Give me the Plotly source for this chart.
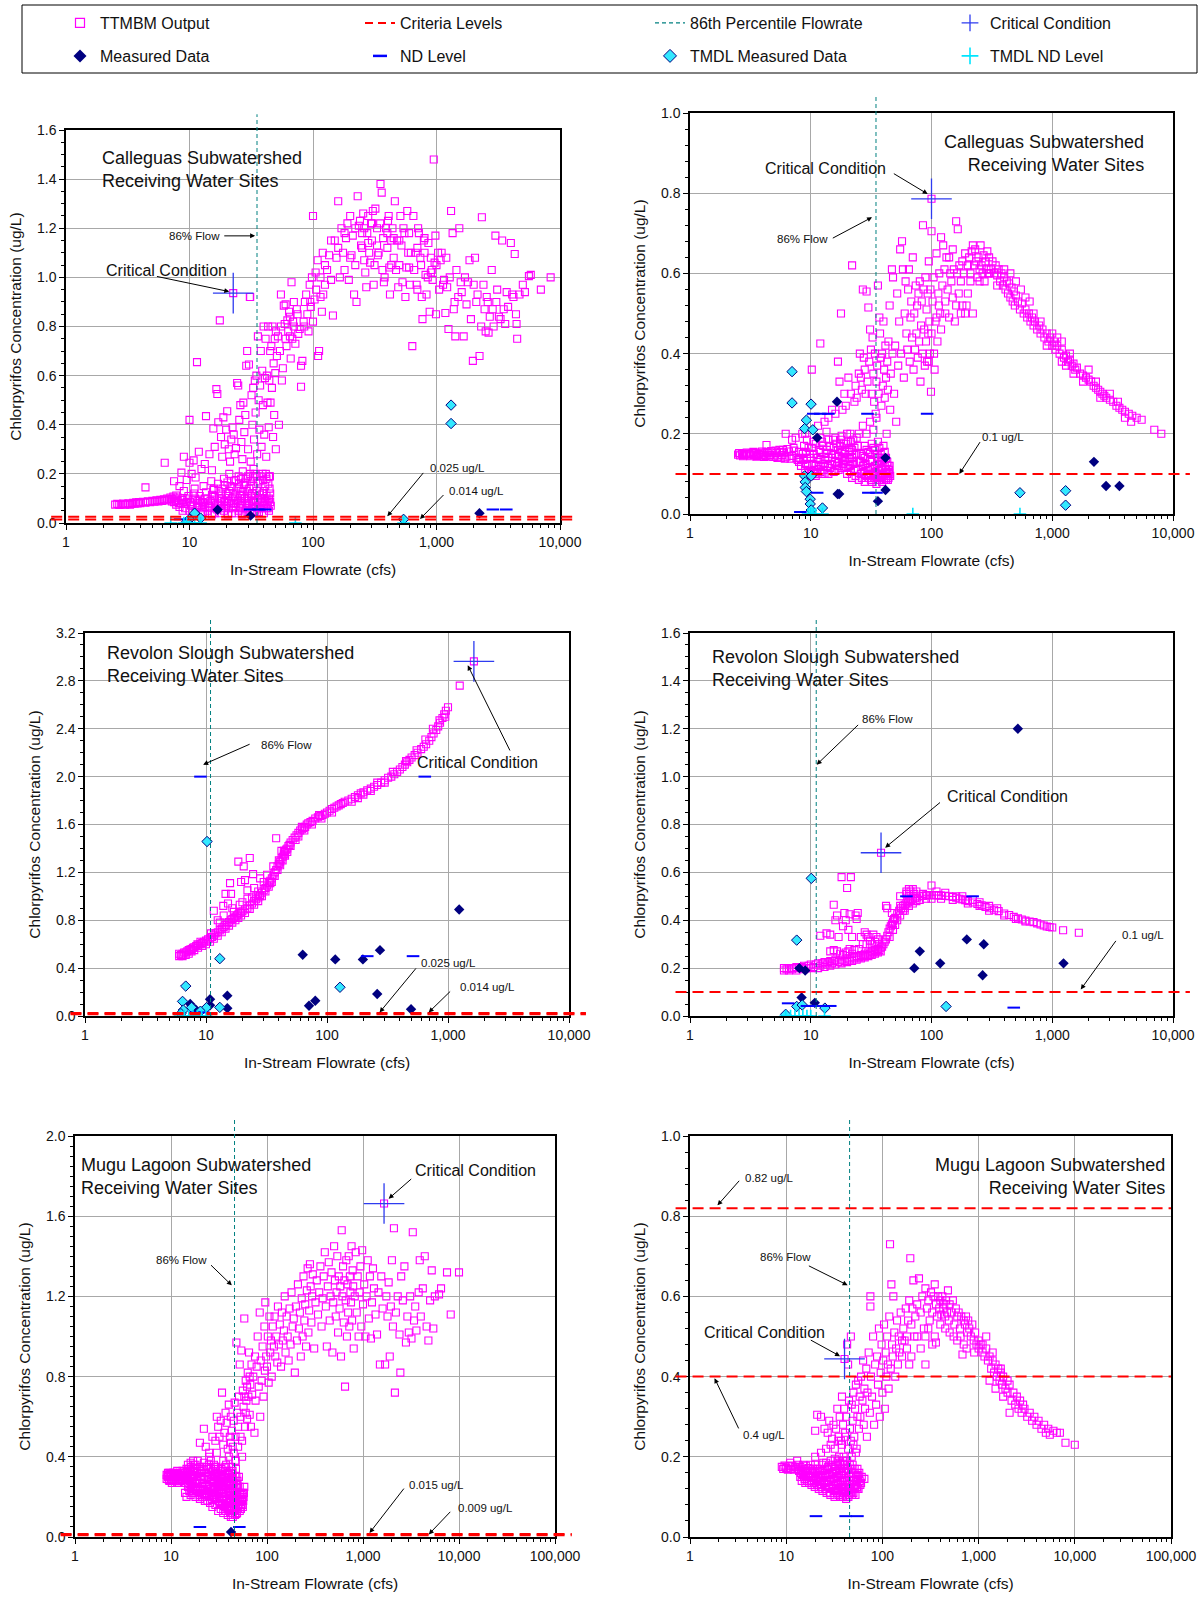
import math
import plotly.graph_objects as go

W, H = 1199, 1602
FONT = "Liberation Sans, Arial, Helvetica, sans-serif"

# ---------------------------------------------------------------- data
# Panel 1 : Calleguas (criteria 0.025 / 0.014)
P1_TTMBM = [
 (2.5,.075),(2.6,.078),(2.7,.073),(2.8,.076),(2.9,.079),(3.0,.074),(3.1,.077),(3.2,.08),(3.3,.075),(3.4,.078),
 (3.5,.082),(3.6,.079),(3.7,.084),(3.8,.08),(3.9,.085),(4.0,.081),(4.2,.086),(4.4,.083),(4.6,.088),(4.8,.085),
 (5.0,.09),(5.2,.087),(5.4,.092),(5.6,.088),(5.8,.094),(6.0,.09),(6.2,.096),(6.4,.092),(6.6,.1),(6.8,.095),
 (7.0,.104),(7.2,.098),(7.4,.108),(7.6,.1),(7.8,.112),(8.0,.104),
 (7.5,.085),(7.8,.075),(8.0,.09),(8.3,.065),(8.6,.08),(8.9,.1),(9.2,.06),(9.5,.085),(9.8,.11),(10,.05),
 (10.3,.07),(10.6,.095),(10.9,.12),(11.2,.045),(11.5,.065),(11.8,.09),(12.1,.11),(12.4,.04),(12.7,.06),(13.0,.08),
 (13.3,.1),(13.6,.125),(14,.05),(14.4,.07),(14.8,.09),(15.2,.115),(15.6,.135),(16,.04),(16.5,.06),(17,.08),
 (17.5,.1),(18,.12),(18.5,.14),(19,.05),(19.5,.07),(20,.09),(20.5,.11),(21,.13),(21.5,.15),(22,.04),
 (22.5,.06),(23,.08),(23.5,.1),(24,.12),(24.5,.14),(25,.05),(25.5,.07),(26,.09),(26.5,.11),(27,.13),
 (27.5,.155),(28,.04),(28.5,.06),(29,.08),(29.5,.1),(30,.12),(30.5,.14),(31,.05),(32,.07),(33,.09),
 (34,.11),(35,.13),(36,.06),(37,.08),(38,.1),(39,.12),(40,.07),(41,.09),(42,.11),(43,.08),(44,.1),(45,.085),
 (9,.13),(11,.14),(13,.15),(15,.17),(17,.16),(19,.18),(21,.2),(23,.17),(25,.19),(27,.21),(29,.18),(31,.2),
 (33,.22),(35,.19),(37,.17),(39,.2),(42,.18),(44,.19),(45,.12),
 (12,.07),(14,.1),(16,.11),(18,.06),(20,.07),(22,.1),(24,.08),(26,.06),(28,.1),(30,.08),(32,.12),(34,.05),
 (36,.1),(38,.06),(40,.13),(42,.06),(44,.05),(18,.09),(26,.13),(33,.15),(21,.09),(29,.13),(37,.13),(41,.15),
 (7.2,.088),(7.7,.092),(8.2,.082),(8.7,.094),(9.1,.078),(9.6,.1),(10.1,.085),(10.6,.075),(11.1,.1),(11.6,.08),
 (12.2,.095),(12.8,.085),(13.4,.065),(14.1,.08),(14.7,.06),(15.4,.095),(16.1,.075),(16.8,.055),(17.5,.07),(18.3,.1),
 (19.1,.085),(19.9,.12),(20.8,.06),(21.7,.08),(22.6,.105),(23.6,.065),(24.6,.09),(25.7,.115),(26.8,.075),(27.9,.1),
 (29.1,.06),(30.3,.09),(31.6,.11),(32.9,.085),(34.3,.065),(35.7,.095),(37.2,.115),(38.8,.085),(40.4,.1),(42.1,.075),
 (43.9,.095),(45.5,.07),(8.8,.05),(10.5,.04),(12.8,.045),(15.2,.035),(17.8,.04),(20.5,.035),(23.5,.04),(26.5,.035),
 (29.5,.045),(33,.04),(36.5,.045),(40,.04),(43,.06),(15.8,.14),(17.2,.13),(19.2,.155),(20.3,.165),(22.2,.145),
 (23.7,.175),(25.2,.16),(26.2,.18),(28.2,.165),(29.7,.19),(31.2,.17),(32.7,.185),(34.2,.2),(35.8,.165),(37.7,.19),
 (39.5,.175),(41.5,.2),(43.5,.16),(44.5,.14),
 (4.4,.145),(6.3,.245),(7.5,.17),(8.3,.15),(8.6,.205),(9.0,.27),(9.5,.175),(10,.42),(10,.245),(10.4,.2),
 (10.8,.255),(11.2,.185),(11.5,.655),(11.9,.29),(12.5,.22),(13.3,.24),(13.6,.435),(14.5,.28),(15.2,.215),(15.6,.385),
 (16,.31),(16.5,.545),(16.8,.525),(17.1,.41),(17.6,.825),(18,.35),(18.4,.27),(18.8,.43),(19.3,.32),(19.8,.38),
 (20.2,.455),(20.8,.3),(21.3,.25),(21.8,.34),(22.3,.39),(22.8,.36),(23.2,.28),(23.8,.305),(24.3,.57),(24.8,.56),
 (25.3,.42),(25.8,.48),(26.3,.33),(26.8,.26),(27.3,.49),(27.8,.37),(28.3,.44),(28.8,.64),(29.3,.7),(29.8,.3),
 (30.3,.645),(30.8,.92),(31.3,.25),(31.8,.52),(32.3,.4),(32.8,.55),(33.3,.34),(33.8,.58),(34.3,.45),(34.8,.6),
 (35.3,.28),(35.8,.76),(36.3,.5),(36.8,.38),(37.3,.56),(37.8,.7),(38.3,.31),(38.8,.62),(39.3,.48),(39.8,.8),
 (40.3,.36),(40.8,.59),(41.3,.75),(41.8,.27),(42.3,.6),(42.8,.49),(43.3,.8),(43.8,.39),(44.3,.58),(44.8,.19),
 (45.3,.49),(46,.72),(46.5,.55),(47,.8),(47.5,.35),(48,.65),(48.5,.44),(49,.75),(49.5,.61),(50,.3),
 (51,.68),(52,.76),(53,.4),(54,.7),(55,.93),(56,.58),(57,.63),(58,.885),(59,.81),(60,.89),
 (61,.72),(62,.825),(63,.78),(64,.86),(65,.76),(66,.67),(67,.98),(68,.75),(69,.82),(70,.8),
 (72,.73),(74,.87),(76,.77),(78,.79),(80,.64),(80,.555),(82,.66),(84,.82),(86,.9),(88,.93),
 (90,.85),(92,.78),(94,.97),(96,.88),(98,1.0),(100,1.25),(100,.82),(103,.91),(106,.95),(109,1.07),
 (110,.68),(112,.7),(115,1.0),(118,.86),(121,.93),(125,.97),(130,1.03),(135,1.09),(140,.99),(145,.845),(150,1.15),
 (45,.7),(50,.78),(55,.8),(60,.75),(65,.84),(70,.9),(75,.85),(85,.8),(95,.9),(105,1.02),(115,.92),(125,1.05),
 (155,1.08),(160,1.31),(165,1.0),(170,1.2),(175,1.1),(180,1.03),(185,1.16),(190,1.22),(195,.99),(200,1.25),
 (205,1.09),(210,1.17),(215,.93),(220,1.05),(225,.9),(230,1.33),(235,1.21),(240,1.23),(245,1.13),(250,1.12),
 (255,1.26),(260,1.2),(265,1.02),(270,.96),(275,1.18),(280,1.25),(285,1.1),(290,1.06),(295,1.22),(300,1.15),
 (305,1.27),(310,.97),(315,1.05),(320,1.28),(330,1.2),(335,1.09),(340,1.1),(352,1.38),(360,1.345),(365,1.03),
 (370,1.16),(375,.98),(380,1.0),(390,1.2),(400,1.12),(405,1.23),(410,1.25),(415,1.04),(420,.93),(430,1.15),
 (440,1.2),(450,1.08),(460,1.31),(470,1.03),(480,1.15),(490,.96),(500,1.05),(510,1.25),(520,1.13),(530,.98),
 (540,1.2),(550,1.18),(560,.92),(570,1.04),(580,1.27),(590,1.1),(600,1.04),(610,.97),(620,1.1),(637,.72),
 (650,1.25),(660,1.03),(680,1.1),(690,.97),(700,.95),(710,1.2),(720,1.18),(740,1.08),(750,1.05),(760,.92),
 (770,.83),(790,1.15),(800,1.1),(815,1.01),(830,.93),(850,1.0),(860,1.14),(880,.86),(900,1.08),(915,1.03),
 (930,.99),(950,1.48),(965,1.06),(980,1.17),(990,.85),(1000,1.05),(1030,1.1),(1050,.95),(1080,1.07),(1100,1.1),
 (120,1.1),(140,1.15),(160,1.12),(180,1.18),(200,1.08),(220,1.2),(250,1.18),(280,1.14),(300,1.22),(350,1.22),
 (400,1.18),(450,1.16),(500,1.15),(600,1.18),(700,1.12),(800,1.16),(900,1.02),(260,1.07),(330,1.13),(430,1.05),
 (1130,.97),(1150,.99),(1180,.855),(1200,1.08),(1220,.96),(1250,.79),(1280,1.0),(1312,1.27),(1350,1.18),(1380,.87),
 (1400,.9),(1420,.76),(1450,1.03),(1500,.92),(1530,1.2),(1570,.98),(1600,.94),(1660,.76),(1700,1.0),(1750,.89),
 (1800,.98),(1850,1.07),(1900,.83),(1970,.66),(2000,.97),(2050,1.08),(2100,.9),(2150,.93),(2230,.68),(2300,.8),
 (2330,1.245),(2400,.97),(2450,.87),(2500,.78),(2550,.92),(2600,.9),(2640,.775),(2700,.84),(2800,1.03),(2850,.87),
 (2900,.8),(3000,1.17),(3050,.9),(3100,.95),(3200,.84),(3300,.83),(3400,1.15),(3500,.87),(3600,.81),(3700,.94),
 (3800,.88),(4000,1.14),(4100,.93),(4200,.92),(4300,1.095),(4400,.85),(4450,.81),(4500,.75),(4700,.93),(5000,.97),
 (5200,.94),(5600,1.005),(5800,1.01),(7000,.95),(8400,1.0),(22.6,.936),(31,.92)]
P1_MEASURED = [(16.9,.054),(31.2,.03),(2228,.04)]
P1_TMDL_MEASURED = [(11,.04),(12.3,.02),(1312,.48),(1312,.405),(541,.015),(10,.015),(9.5,.005)]
P1_ND = [(31,.055),(36,.055),(41,.055),(2863,.055),(3673,.055),(8.4,.015)]
P1_TMDL_ND = [(7.05,0),(9,0),(9.5,0),(10,0),(11,0),(12.3,0),(72,0),(541,0)]
P1_CRITICAL = [(22.6,.936)]
P1_CRITERIA = [0.025, 0.014]
P1_FLOW86 = 35.2

# Panel 2 : Calleguas (criteria 0.1)
P2_TTMBM = [
 (2.5,.148),(2.6,.146),(2.7,.15),(2.8,.147),(2.9,.151),(3.0,.146),(3.1,.15),(3.2,.148),(3.3,.152),(3.4,.147),
 (3.5,.151),(3.6,.145),(3.7,.15),(3.8,.153),(3.9,.147),(4.0,.151),(4.2,.145),(4.4,.152),(4.6,.147),(4.8,.154),
 (5.0,.146),(5.2,.152),(5.4,.143),(5.6,.155),(5.8,.147),(6.0,.153),(6.3,.143),(6.6,.156),(7.0,.145),(7.3,.158),
 (7.6,.14),(8.0,.155),(4.3,.172),(6.2,.2),(7.0,.185),
 (2.55,.152),(2.75,.144),(2.95,.153),(3.15,.144),(3.35,.155),(3.55,.143),(3.75,.147),(3.95,.156),(4.1,.142),(4.3,.155),
 (4.5,.143),(4.7,.157),(4.9,.142),(5.1,.158),(5.3,.14),(5.5,.16),(5.7,.14),(5.9,.16),(6.1,.138),(6.4,.162),
 (6.8,.138),(7.2,.165),(7.8,.135),
 (8,.13),(8.3,.12),(8.6,.15),(9,.11),(9.3,.14),(9.6,.165),(10,.1),(10.3,.125),(10.6,.15),(11,.175),
 (11.3,.105),(11.6,.13),(12,.155),(12.4,.18),(12.8,.11),(13.2,.135),(13.6,.16),(14,.185),(14.5,.115),(15,.14),
 (15.5,.165),(16,.19),(16.5,.12),(17,.145),(17.5,.17),(18,.195),(18.5,.125),(19,.15),(19.5,.175),(20,.2),
 (20.5,.13),(21,.155),(21.5,.18),(22,.14),(23,.165),(24,.19),(9.5,.095),(11,.095),(12.5,.1),(14,.1),
 (15.5,.105),(17,.11),(8.8,.17),(10.5,.18),(12,.19),(13.5,.205),(9,.2),(7.5,.19),
 (9,.125),(10,.14),(11,.12),(12,.135),(13,.125),(14,.14),(15,.125),(16,.15),(17,.13),(18,.155),(19,.135),(21,.14),
 (8.2,.14),(8.7,.135),(9.1,.155),(9.4,.12),(9.8,.15),(10.2,.165),(10.7,.11),(11.2,.14),(11.8,.16),(12.2,.12),
 (12.7,.17),(13.3,.15),(13.8,.12),(14.3,.17),(14.8,.15),(15.3,.185),(15.8,.13),(16.3,.175),(16.8,.16),(17.3,.12),
 (17.8,.185),(18.3,.14),(18.8,.175),(19.3,.16),(19.8,.14),(20.3,.18),(20.8,.165),(21.3,.2),(21.8,.13),(22.5,.185),
 (23.5,.15),(24.5,.17),(9.7,.105),(10.8,.1),(12,.105),(13,.1),(16,.11),(18,.115),(19,.115),
 (20,.1),(21,.12),(22,.09),(23,.11),(24,.13),(25,.085),(26,.1),(27,.12),(28,.08),(29,.095),
 (30,.115),(31,.135),(32,.08),(33,.1),(34,.12),(35,.075),(36,.09),(37,.11),(38,.13),(39,.08),
 (40,.1),(41,.12),(42,.085),(43,.105),(44,.09),(45,.1),(26,.15),(28,.17),(30,.155),(32,.175),
 (34,.16),(36,.18),(38,.15),(40,.17),(42,.14),(44,.12),(25,.2),(27,.22),(29,.2),(31,.23),(33,.21),(35,.24),
 (22,.16),(24,.15),(26,.13),(28,.14),(30,.09),(32,.13),(34,.095),(36,.14),(38,.095),(40,.135),(42,.11),(44,.105),
 (20.5,.115),(21.5,.105),(22.5,.125),(23.5,.095),(24.5,.11),(25.5,.13),(26.5,.09),(27.5,.105),(28.5,.125),(29.5,.11),
 (30.5,.1),(31.5,.085),(32.5,.115),(33.5,.09),(34.5,.105),(35.5,.125),(36.5,.1),(37.5,.085),(38.5,.115),(39.5,.1),
 (40.5,.085),(41.5,.11),(42.5,.095),(43.5,.085),(44.5,.11),(45.5,.095),(27,.145),(29,.16),(31,.15),(33,.165),
 (35,.15),(37,.165),(39,.14),(41,.155),(43,.13),(45,.12),
 (8.5,.2),(9.3,.185),(10.2,.36),(11.5,.22),(12,.425),(13,.23),(14,.24),(15,.26),(16,.25),(16.8,.38),
 (17.3,.33),(17.8,.5),(18.3,.26),(19,.3),(19.5,.27),(20.5,.34),(21.5,.3),(22,.62),(23,.28),(23.5,.32),
 (24,.29),(25,.35),(25.5,.4),(26,.34),(26.5,.31),(27,.56),(27.5,.39),(28,.36),(28.5,.3),(29,.555),
 (29.5,.33),(30,.515),(30.5,.38),(31,.46),(31.5,.41),(32,.3),(32.5,.44),(33,.35),(33.5,.28),(34,.4),
 (34.5,.25),(35,.33),(35.5,.37),(36,.57),(36.5,.3),(37,.49),(37.5,.45),(38,.39),(38.5,.27),(39,.4),
 (39.5,.32),(40,.48),(40.5,.36),(41,.29),(41.5,.42),(42,.34),(42.5,.2),(43,.38),(43.5,.31),(44,.43),
 (45,.52),(45.5,.26),(46,.35),(47,.61),(47.5,.4),(48,.59),(49,.3),(50,.42),(51,.23),(52,.55),
 (53,.37),(54,.48),(55,.66),(56,.4),(57,.68),(58,.61),(59,.34),(60,.5),(61,.58),(62,.45),
 (63,.41),(64,.56),(65,.61),(66,.38),(67,.49),(68,.53),(69,.44),(70,.64),(71,.36),(72,.5),
 (73,.41),(74,.57),(75,.45),(76,.52),(77,.39),(78,.55),(79,.43),(80,.58),(81,.33),(82,.47),
 (83,.53),(84,.4),(85,.72),(86,.56),(87,.46),(88,.37),(89,.59),(90,.43),(91,.51),(92,.38),
 (93,.55),(94,.45),(95,.63),(96,.48),(97,.4),(98,.56),(99,.305),(100,.705),(100,.45),(102,.53),
 (104,.59),(106,.36),(108,.48),(110,.65),(112,.43),(114,.55),(116,.6),(118,.5),(120,.69),(123,.57),
 (125,.67),(128,.61),(130,.53),(133,.64),(136,.56),(140,.64),(143,.6),(146,.58),(150,.66),(153,.61),
 (156,.48),(160,.73),(163,.6),(165,.71),(168,.55),(170,.62),(175,.58),(180,.63),(185,.6),(190,.65),
 (195,.52),(200,.62),(205,.64),(210,.6),(215,.655),(220,.5),(225,.62),(230,.66),(235,.63),(240,.59),
 (245,.64),(250,.61),(255,.67),(260,.62),(265,.6),(270,.645),(275,.58),(280,.63),(285,.61),(290,.655),
 (295,.6),(300,.64),(310,.61),(320,.63),(330,.6),(340,.62),(350,.595),(360,.61),(370,.58),(380,.6),
 (390,.57),(400,.59),(410,.56),(420,.58),(430,.55),(440,.575),(450,.54),(460,.565),(470,.53),(480,.555),
 (490,.52),(500,.545),(520,.53),(540,.51),(560,.525),(580,.5),(600,.51),(620,.49),(640,.5),(660,.48),
 (680,.49),(700,.47),(720,.48),(750,.46),(780,.47),(800,.45),(830,.46),(860,.44),(900,.45),(930,.43),
 (960,.44),(1000,.42),(1030,.43),(1060,.41),(1100,.42),(1150,.4),(1200,.41),(1250,.39),(1300,.395),(1350,.38),
 (1400,.385),(1450,.37),(1500,.375),(1550,.36),(1600,.365),(1700,.35),(1800,.345),(1900,.34),(2000,.335),(2100,.33),
 (2200,.32),(2300,.315),(2400,.31),(2500,.305),(2600,.3),(2700,.295),(2800,.29),(3000,.285),(3200,.28),(3400,.27),
 (3600,.265),(3800,.26),(4000,.255),(4300,.25),(4600,.245),(5000,.24),(5500,.235),(7000,.21),(8000,.2),
 (500,.58),(550,.56),(600,.54),(650,.53),(700,.5),(800,.48),(900,.42),(1000,.45),(1100,.44),(1200,.38),
 (1300,.37),(1500,.35),(1800,.33),(2000,.36),(2300,.33),(2500,.29),(3000,.3),(3500,.28),(4000,.24),(4500,.23),
 (1200,.43),(1400,.4),(300,.6),(250,.58),(200,.55),(180,.52),(350,.57),(400,.61),(450,.6),(220,.67),
 (150,.54),(140,.49),(130,.5),(120,.46),(110,.49),(95,.38),(105,.4),(115,.52),(160,.52),(175,.5),
 (190,.5),(210,.58),(100,.786)]
P2_MEASURED = [(16.5,.28),(11.3,.19),(41.6,.14),(16.7,.05),(17.2,.05),(41.6,.06),(36,.032),(2215,.13),(2790,.07),(3600,.07)]
P2_TMDL_MEASURED = [(7,.355),(7,.277),(10.06,.274),(9.2,.234),(8.9,.213),(10.4,.21),(8.9,.095),(10.1,.095),(9,.08),
 (9,.066),(9.2,.056),(9.9,.037),(9.9,.025),(10.1,.01),(12.5,.015),(540,.053),(1290,.058),(1290,.022)]
P2_ND = [(10.5,.25),(12,.25),(14,.25),(29.5,.25),(92,.25),(11.3,.053),(30,.053),(35,.053),(8.2,.005)]
P2_TMDL_ND = [(9.5,0),(10,0),(10.5,0),(11,0),(12.5,0),(70,0),(540,0)]
P2_CRITICAL = [(100,.786)]
P2_CRITERIA = [0.1]
P2_FLOW86 = 34.7

# Panel 3 : Revolon Slough (criteria 0.025 / 0.014)
P3_TTMBM = [
 (6.0,.50),(6.0,.52),(6.2,.51),(6.4,.52),(6.4,.50),(6.6,.53),(6.8,.53),(6.8,.51),(7.0,.54),(7.2,.55),
 (7.2,.52),(7.4,.555),(7.6,.56),(7.6,.54),(7.8,.57),(8.0,.575),(8.0,.55),(8.3,.585),(8.6,.59),(8.6,.57),
 (9.0,.6),(9.3,.61),(9.3,.585),(9.6,.62),(10,.63),(10,.6),(10.4,.64),(10.8,.65),(10.8,.62),(11.2,.66),
 (11.6,.675),(11.6,.645),(12,.69),(12.5,.7),(12.5,.67),(13,.715),(13.5,.73),(13.5,.7),(14,.745),(14.5,.76),
 (14.5,.73),(15,.775),(15.5,.785),(15.5,.755),(16,.8),(16.5,.81),(16.5,.78),(17,.82),(17.5,.83),(17.5,.8),
 (18,.84),(18.5,.85),(18.5,.82),(19,.86),(19.5,.865),(19.5,.84),(20,.875),(21,.89),(21,.86),(22,.905),
 (23,.925),(23,.895),(24,.94),(25,.96),(25,.93),(26,.975),(27,.99),(27,.96),(28,1.01),(29,1.03),
 (29,1.0),(30,1.05),(31,1.07),(31,1.04),(32,1.09),(33,1.11),(33,1.08),(34,1.13),(35,1.15),(35,1.12),
 (36,1.17),(37,1.2),(37,1.17),(38,1.22),(39,1.25),(39,1.22),(40,1.27),(41,1.29),(41,1.26),(42,1.31),
 (43,1.33),(43,1.3),(44,1.35),(45,1.37),(45,1.34),(46,1.39),(47,1.4),(48,1.42),(49,1.43),(50,1.45),
 (52,1.47),(54,1.49),(56,1.51),(58,1.53),(60,1.55),(62,1.56),(64,1.57),(66,1.58),(68,1.6),(70,1.61),
 (73,1.62),(76,1.63),(80,1.65),(84,1.66),(88,1.67),(92,1.68),(96,1.69),(100,1.7),(105,1.715),(110,1.73),
 (115,1.74),(120,1.75),(125,1.76),(130,1.77),(135,1.78),(140,1.79),(150,1.8),(160,1.815),(170,1.83),(180,1.845),
 (190,1.86),(200,1.87),(215,1.885),(230,1.9),(245,1.915),(260,1.93),(280,1.95),(300,1.97),(320,1.99),(340,2.0),
 (360,2.02),(380,2.04),(400,2.06),(420,2.08),(440,2.1),(460,2.12),(480,2.14),(500,2.16),(530,2.18),(560,2.2),
 (600,2.23),(630,2.25),(660,2.27),(700,2.3),(730,2.33),(760,2.36),(800,2.39),(830,2.42),(860,2.45),(900,2.49),
 (930,2.52),(960,2.55),(1000,2.58),(1250,2.76),(1637,2.963),
 (11.6,.88),(13.9,.92),(14.5,1.02),(15.2,.94),(15.8,1.11),(16.1,1.02),(16.5,.9),(18.5,1.29),(19.5,1.12),(20.5,1.25),
 (21,1.135),(22,1.05),(23,1.32),(24.5,1.185),(25,1.07),(26,1.0),(28,1.15),(30,1.12),(38,1.485),(12.5,.8),
 (13,.78),(14,.84),(17,.87),(19,.93),(20,.95),(22,.98),(27,1.04),(32,1.18),(36,1.25),(42,1.38),
 (47,1.37),(50,1.42),(55,1.47),(58,1.5),(65,1.55),(75,1.6),(90,1.65),(110,1.7),(160,1.79),(180,1.82),
 (200,1.85),(230,1.88),(260,1.95),(300,1.95),(350,2.04),(450,2.13),(550,2.22),(650,2.31),(750,2.4),(850,2.47),
 (950,2.5),(28,1.0),(34,1.11),(8.5,.6),(9,.62),(11,.69),(24,.99),(40,1.3),(44,1.38),(62,1.58),(86,1.68)]
P3_MEASURED = [(10.8,.14),(10.8,.09),(15,.17),(15,.065),(7.4,.1),(8.2,.055),(63,.512),(117,.473),(198,.473),
 (274,.55),(71,.086),(80,.128),(260,.184),(495,.056),(1237,.89)]
P3_TMDL_MEASURED = [(10.2,1.458),(13,.479),(6.8,.25),(6.4,.122),(128,.24),(13,.072),(6.5,.05),(7.6,.072),
 (10.1,.07),(9,.04),(6.2,.02)]
P3_ND = [(9,2.0),(643,2.0),(215,.5),(514,.5),(8,.03),(9.5,.03)]
P3_TMDL_ND = [(6.1,0),(6.6,0),(7.2,0),(7.8,0),(8.5,0),(9.2,0),(10,0)]
P3_CRITICAL = [(1637,2.963)]
P3_CRITERIA = [0.025, 0.014]
P3_FLOW86 = 10.9

# Panel 4 : Revolon Slough (criteria 0.1)
P4_TTMBM = [
 (6.0,.19),(6.0,.2),(6.3,.195),(6.6,.19),(6.6,.2),(7.0,.195),(7.3,.2),(7.6,.19),(7.6,.205),(8.0,.2),
 (8.4,.205),(8.8,.195),(8.8,.21),(9.2,.2),(9.6,.21),(10,.2),(10,.215),(10.5,.205),(11,.215),(11.5,.2),
 (11.5,.22),(12,.21),(12.5,.22),(13,.205),(13,.225),(13.5,.215),(14,.225),(14.5,.21),(14.5,.23),(15,.22),
 (15.5,.23),(16,.215),(16,.235),(17,.225),(18,.235),(18,.22),(19,.23),(20,.24),(20,.225),(21,.235),
 (22,.245),(22,.23),(23,.24),(24,.25),(24,.235),(25,.245),(26,.255),(26,.24),(27,.25),(28,.26),
 (28,.245),(29,.255),(30,.265),(30,.25),(31,.26),(32,.27),(32,.255),(33,.265),(34,.275),(34,.26),
 (35,.27),(36,.28),(36,.265),(37,.275),(38,.285),(38,.27),(39,.29),(40,.3),(41,.31),(42,.32),
 (43,.335),(44,.35),(45,.365),(46,.375),(47,.385),(48,.395),(49,.405),(50,.41),(52,.425),(54,.44),
 (56,.45),(58,.46),(60,.465),(62,.47),(64,.475),(66,.48),(68,.485),(70,.49),(73,.492),(76,.495),
 (80,.5),(85,.502),(90,.504),(95,.505),(100,.505),(105,.505),(110,.505),(115,.504),(120,.503),(130,.502),
 (140,.5),(150,.497),(160,.494),(170,.49),(180,.487),(190,.484),(200,.48),(220,.474),(240,.468),(260,.462),
 (280,.456),(300,.45),(330,.444),(360,.438),(400,.428),(440,.422),(480,.414),(520,.408),(560,.403),(600,.399),
 (650,.395),(700,.392),(750,.387),(800,.382),(850,.378),(900,.374),(950,.372),(1000,.37),(1230,.358),(1660,.348),
 (45,.33),(48,.36),(50,.38),(52,.4),(55,.42),(58,.44),(60,.44),(65,.46),(70,.47),(75,.48),
 (80,.485),(90,.49),(100,.49),(120,.49),(150,.485),(200,.47),(250,.46),(300,.44),(400,.42),(500,.405),
 (600,.395),(55,.46),(60,.45),(65,.5),(67,.52),(70,.53),(72,.51),(75,.52),(62,.51),(85,.51),
 (110,.52),(130,.515),(160,.5),(180,.5),(220,.485),(250,.475),(300,.46),(350,.45),
 (12,.335),(13.5,.345),(14.5,.34),(15.5,.465),(16,.4),(16.5,.42),(17,.33),(18,.58),(18.5,.375),(19,.43),
 (19.5,.4),(20,.535),(20.5,.36),(21,.425),(21.5,.58),(22,.33),(23.5,.42),(24,.405),(24.5,.43),(26,.33),
 (28,.35),(29,.34),(30,.33),(31,.315),(33,.34),(35,.33),(36,.32),(42,.46),(43,.45),(47,.43),
 (55,.5),(62,.52),(65,.53),(100,.545),(14.5,.27),(15.5,.275),(16.5,.27),(17.5,.26),(18.5,.255),(19.5,.265),
 (20.5,.27),(22,.26),(21,.28),(23,.275),(25,.28),(27,.3),(29,.3),(32,.3),(34,.31),(37,.3),(38.2,.682)]
P4_MEASURED = [(519,1.2),(8.05,.2),(9,.19),(8.4,.077),(10.8,.055),(72,.2),(80,.27),(118,.22),(196,.32),
 (271,.3),(265,.17),(1240,.22)]
P4_TMDL_MEASURED = [(10.1,.575),(7.65,.317),(7.65,.04),(8.5,.046),(13.1,.033),(132,.04),(6.2,.007)]
P4_ND = [(6.5,.053),(9.3,.042),(10.3,.042),(12,.042),(14.5,.042),(62,.5),(219,.5),(480,.035)]
P4_TMDL_ND = [(6.2,0),(6.8,0),(7.4,0),(8,0),(8.6,0),(9.3,0),(10,0),(13,0)]
P4_CRITICAL = [(38.2,.682)]
P4_CRITERIA = [0.1]
P4_FLOW86 = 11.1

# Panel 5 : Mugu Lagoon (criteria 0.015 / 0.009)
P5_TTMBM = [
 (9,.31),(9,.29),(9.3,.3),(9.6,.32),(9.6,.28),(10,.31),(10,.29),(10.4,.3),(10.8,.32),(10.8,.28),
 (11.2,.31),(11.2,.29),(11.6,.33),(11.6,.27),(12,.3),(12.4,.32),(12.4,.28),(12.8,.31),(13.2,.33),(13.2,.29),
 (13.6,.3),(14,.32),(14,.27),(14.5,.34),(14.5,.3),(15,.36),(15,.32),(15.5,.34),(16,.37),(16,.31),
 (17,.38),(17,.33),(18,.36),(19,.38),(18.5,.34),(9.3,.32),(10.2,.27),(11,.3),(12,.27),(13,.31),
 (9.2,.305),(9.5,.285),(9.8,.315),(10.1,.3),(10.5,.32),(10.6,.285),(10.9,.305),(11.4,.3),(11.8,.315),(12.2,.29),
 (12.6,.305),(13.0,.285),(13.4,.32),(13.8,.31),(14.2,.295),(14.7,.325),(15.2,.3),(15.7,.33),(16.2,.35),(16.7,.3),
 (17.2,.36),(17.7,.34),
 (14,.22),(14.5,.2),(15,.25),(15.5,.23),(16,.21),(16.5,.27),(17,.24),(17.5,.22),(18,.2),(18.5,.28),
 (19,.25),(19.5,.22),(20,.19),(20.5,.3),(21,.27),(21.5,.24),(22,.21),(22.5,.18),(23,.32),(23.5,.29),
 (24,.26),(24.5,.23),(25,.2),(25.5,.17),(26,.34),(26.5,.31),(27,.28),(27.5,.25),(28,.22),(28.5,.19),
 (29,.16),(29.5,.35),(30,.32),(30.5,.29),(31,.26),(31.5,.23),(32,.2),(32.5,.17),(33,.14),(33.5,.34),
 (34,.31),(34.5,.28),(35,.25),(35.5,.22),(36,.19),(36.5,.16),(37,.13),(37.5,.36),(38,.33),(38.5,.3),
 (39,.27),(39.5,.24),(40,.21),(40.5,.18),(41,.15),(41.5,.12),(42,.1),(42.5,.35),(43,.32),(43.5,.29),
 (44,.26),(44.5,.23),(45,.2),(45.5,.17),(46,.14),(46.5,.11),(47,.38),(47.5,.34),(48,.3),(48.5,.26),
 (49,.22),(49.5,.18),(50,.14),(51,.3),(52,.25),(53,.2),(54,.16),(55,.19),(56,.22),(20,.35),
 (22,.37),(24,.34),(26,.38),(28,.36),(25,.4),(30,.42),(21,.32),(27,.15),(31,.13),(35,.12),
 (39,.11),(44,.1),(48,.115),(52,.13),(56,.15),(57,.2),(58,.25),
 (15,.29),(16,.26),(17,.29),(18,.25),(19,.3),(20,.24),(21,.2),(22,.29),(23,.23),(24,.18),(25,.3),(26,.24),
 (27,.2),(28,.3),(29,.25),(30,.19),(31,.3),(32,.27),(33,.24),(34,.18),(35,.3),(36,.26),(37,.22),(38,.17),
 (39,.32),(40,.28),(41,.24),(42,.19),(43,.15),(44,.3),(45,.27),(46,.22),(47,.18),(48,.14),(50,.25),(52,.19),
 (15.3,.27),(15.8,.28),(16.3,.24),(16.8,.22),(17.3,.31),(17.8,.27),(18.3,.23),(18.8,.32),(19.3,.27),(19.8,.21),
 (20.3,.33),(20.8,.23),(21.3,.29),(21.8,.34),(22.3,.25),(22.8,.2),(23.3,.35),(23.8,.22),(24.3,.3),(24.8,.36),
 (25.3,.25),(25.8,.21),(26.3,.29),(26.8,.19),(27.3,.33),(27.8,.27),(28.3,.24),(28.8,.35),(29.3,.21),(29.8,.28),
 (30.3,.23),(30.8,.34),(31.3,.18),(31.8,.31),(32.3,.25),(32.8,.22),(33.3,.29),(33.8,.16),(34.3,.26),(34.8,.33),
 (35.3,.2),(35.8,.28),(36.3,.15),(36.8,.35),(37.3,.24),(37.8,.19),(38.3,.27),(38.8,.14),(39.3,.31),(39.8,.23),
 (40.3,.13),(40.8,.26),(41.3,.19),(41.8,.29),(42.3,.15),(42.8,.22),(43.3,.12),(43.8,.33),(44.3,.17),(44.8,.28),
 (45.3,.13),(45.8,.24),(46.3,.19),(46.8,.3),(47.3,.15),(47.8,.26),(48.3,.21),(48.8,.12),(49.3,.28),(49.8,.16),
 (50.5,.2),(51.5,.16),(52.5,.22),(53.5,.14),(54.5,.21),(55.5,.16),(56.5,.18),(57.5,.22),
 (20,.47),(22,.54),(23,.45),(25,.42),(27,.5),(29,.48),(30,.6),(31,.55),(32,.5),(33,.58),
 (34,.72),(35,.46),(36,.52),(37,.62),(38,.57),(39,.44),(40,.66),(41,.5),(42,.6),(43,.53),
 (44,.45),(45,.58),(46,.67),(47,.5),(48,.97),(49,.62),(50,.55),(51,.7),(52,.86),(53,.6),
 (54,.93),(55,.48),(56,.73),(57,.65),(58,1.09),(59,.55),(60,.78),(61,.68),(62,.59),(63,.82),
 (64,.7),(65,.92),(66,.61),(67,.76),(68,.55),(69,.86),(70,.71),(72,.8),(74,.52),(75,.9),
 (76,.68),(78,.85),(80,1.0),(82,.75),(84,1.12),(85,.6),(86,.88),(88,.78),(90,.95),(92,.7),
 (94,1.05),(95,.83),(96,1.17),(98,.9),(100,.85),(102,1.0),(104,.77),(106,1.1),(108,.92),(110,.98),
 (40,.4),(45,.42),(50,.45),(55,.4),(60,.62),(35,.38),(42,.47),(47,.38),(53,.5),(58,.7),(62,.75),(66,.8),
 (112,.8),(115,1.05),(118,.95),(120,1.1),(122,.9),(125,1.0),(128,.87),(130,1.15),(133,.96),(136,1.06),
 (140,.85),(143,1.12),(146,.98),(150,1.03),(153,1.2),(156,.92),(160,1.1),(164,1.0),(168,.88),(172,1.14),
 (176,.96),(180,1.22),(185,1.05),(190,1.09),(195,.82),(200,1.15),(205,.98),(210,1.26),(215,1.04),(220,1.12),
 (225,.9),(230,1.19),(235,1.0),(240,1.3),(245,1.08),(250,1.16),(255,.95),(260,1.23),(265,1.34),(270,1.02),
 (275,1.13),(280,1.36),(285,1.25),(290,1.07),(295,1.2),(300,1.31),(310,.94),(320,1.17),(330,1.28),(340,1.11),
 (350,1.22),(360,1.35),(370,1.05),(380,1.19),(390,1.3),(400,1.42),(410,1.15),(420,.95),(430,1.25),(440,1.37),
 (450,1.08),(460,1.2),(470,1.32),(480,.92),(490,1.17),(500,1.45),(510,1.28),(520,1.1),(530,1.22),(540,1.4),
 (550,1.02),(560,1.3),(570,1.14),(580,1.25),(590,.9),(600,1.53),(610,1.2),(620,1.35),(630,1.07),(640,1.28),
 (650,.75),(660,1.18),(670,1.38),(680,1.0),(690,1.26),(700,1.12),(710,1.4),(720,1.05),(730,1.3),(740,1.22),
 (750,1.17),(760,1.45),(770,1.08),(780,1.33),(790,1.25),(800,.94),(820,1.2),(840,1.42),(860,1.12),(880,1.3),
 (900,1.0),(920,1.22),(940,1.35),(960,1.05),(980,1.43),(1000,1.16),(1030,1.26),(1060,1.0),(1090,1.2),(1120,1.38),
 (1150,1.09),(1180,1.3),(1210,.99),(1240,1.17),(1270,1.34),(1300,1.24),(1350,1.11),(1400,1.01),(1450,1.22),(1500,.86),
 (1550,1.3),(1600,1.14),(1657,1.663),(1700,.86),(1750,1.2),(1800,1.1),(1850,1.27),(1900,.9),(1950,1.15),(2000,1.38),
 (2050,1.05),(2100,1.54),(2150,.72),(2200,1.12),(2300,1.2),(2400,1.01),(2450,.82),(2500,1.3),(2600,1.18),(2700,1.35),
 (2800,.97),(2900,1.1),(3000,1.02),(3100,1.2),(3200,.99),(3300,1.52),(3400,1.08),(3500,1.15),(3600,1.03),(3800,1.22),
 (3900,1.38),(4000,1.1),(4200,1.24),(4400,1.4),(4600,1.05),(4800,.98),(5000,1.18),(5200,1.33),(5400,1.04),(5600,1.2),
 (6200,1.21),(6500,1.24),(7500,1.32),(8200,1.11),(10000,1.32)]
P5_MEASURED = [(42.2,.025)]
P5_TMDL_MEASURED = []
P5_ND = [(20,.05),(51.5,.05)]
P5_TMDL_ND = []
P5_CRITICAL = [(1657,1.663)]
P5_CRITERIA = [0.015, 0.009]
P5_FLOW86 = 45.9

# Panel 6 : Mugu Lagoon (criteria 0.82 / 0.4)
P6_TTMBM = [
 (9,.175),(9.3,.17),(9.6,.178),(10,.172),(10.4,.168),(10.8,.176),(11.2,.17),(11.6,.178),(12,.168),(12.4,.175),
 (12.8,.17),(13.2,.18),(13.6,.165),(14,.175),(14.5,.168),(15,.18),(15.5,.17),(16,.178),(17,.172),(18,.18),
 (19,.17),(20,.18),(13,.19),(11,.185),
 (14,.15),(14.5,.14),(15,.16),(15.5,.145),(16,.155),(16.5,.14),(17,.16),(17.5,.15),(18,.14),(18.5,.165),
 (19,.15),(19.5,.135),(20,.16),(20.5,.145),(21,.13),(21.5,.17),(22,.155),(22.5,.14),(23,.125),(23.5,.18),
 (24,.165),(24.5,.15),(25,.135),(25.5,.12),(26,.185),(26.5,.17),(27,.155),(27.5,.14),(28,.125),(28.5,.11),
 (29,.19),(29.5,.175),(30,.16),(30.5,.145),(31,.13),(31.5,.115),(32,.195),(32.5,.18),(33,.165),(33.5,.15),
 (34,.135),(34.5,.12),(35,.105),(35.5,.2),(36,.185),(36.5,.17),(37,.155),(37.5,.14),(38,.125),(38.5,.11),
 (39,.1),(39.5,.2),(40,.18),(40.5,.16),(41,.14),(41.5,.12),(42,.1),(43,.19),(44,.17),(45,.15),
 (46,.13),(47,.11),(48,.2),(49,.18),(50,.16),(51,.14),(52,.12),(53,.13),(54,.15),(55,.17),
 (56,.145),(58,.14),(42,.095),(45,.105),(50,.11),(55,.12),(60,.135),(65,.145),(20,.2),(23,.21),
 (26,.22),(29,.23),(32,.22),(35,.24),(38,.23),(41,.25),(44,.22),(47,.24),(50,.23),(53,.21),
 (14.2,.16),(14.8,.155),(15.3,.15),(15.8,.135),(16.3,.165),(16.8,.15),(17.3,.135),(17.8,.165),(18.3,.13),(18.8,.15),
 (19.3,.165),(19.8,.125),(20.3,.15),(20.8,.17),(21.3,.14),(21.8,.12),(22.3,.165),(22.8,.13),(23.3,.15),(23.8,.115),
 (24.3,.185),(24.8,.14),(25.3,.16),(25.8,.13),(26.3,.11),(26.8,.15),(27.3,.175),(27.8,.13),(28.3,.155),(28.8,.105),
 (29.3,.14),(29.8,.18),(30.3,.12),(30.8,.16),(31.3,.14),(31.8,.1),(32.3,.17),(32.8,.13),(33.3,.15),(33.8,.11),
 (34.3,.19),(34.8,.14),(35.3,.16),(35.8,.12),(36.3,.1),(36.8,.18),(37.3,.13),(37.8,.16),(38.3,.115),(38.8,.19),
 (39.3,.14),(39.8,.165),(40.3,.11),(40.8,.18),(41.3,.13),(41.8,.16),(42.3,.11),(42.8,.14),(43.3,.17),(43.8,.12),
 (44.3,.1),(44.8,.16),(45.3,.13),(45.8,.18),(46.3,.11),(46.8,.15),(47.3,.125),(47.8,.17),(48.5,.105),(49.5,.14),
 (50.5,.125),(51.5,.17),(52.5,.105),(53.5,.15),(54.5,.125),(55.5,.155),(56.5,.12),(57.5,.16),(59,.13),(61,.15),
 (20,.265),(21,.305),(23,.3),(25,.27),(27,.26),(28,.29),(30,.245),(31,.28),(33,.27),(34,.32),
 (35,.25),(36,.3),(37,.24),(38,.35),(39,.28),(40,.32),(41,.26),(42,.3),(43,.48),(44,.43),
 (45,.34),(46,.27),(47,.5),(48,.33),(49,.29),(50,.36),(51,.25),(52,.32),(53,.38),(54,.22),
 (55,.3),(56,.39),(57,.27),(58,.35),(59,.3),(60,.4),(62,.34),(63,.44),(64,.28),(65,.37),
 (66,.32),(68,.42),(69,.25),(70,.36),(72,.46),(74,.31),(75,.6),(75,.575),(76,.4),(78,.35),
 (80,.5),(82,.28),(84,.43),(86,.33),(88,.45),(90,.38),(92,.52),(94,.3),(96,.41),(98,.48),
 (100,.36),(102,.44),(104,.53),(106,.32),(108,.46),(110,.4),(112,.5),(114,.43),(116,.37),(118,.55),
 (120,.73),(122,.42),(124,.63),(126,.48),(128,.45),(130,.6),(133,.51),(136,.4),(139,.47),(142,.54),
 (145,.43),(148,.5),(150,.46),(155,.56),(160,.45),(165,.52),(170,.49),(175,.57),(180,.5),(185,.54),
 (190,.59),(195,.695),(200,.53),(205,.57),(210,.64),(215,.5),(220,.55),
 (230,.58),(240,.645),(250,.56),(260,.6),(270,.52),(280,.62),(290,.57),(300,.59),(310,.54),(320,.61),
 (330,.56),(340,.6),(350,.63),(360,.58),(370,.55),(380,.6),(390,.57),(400,.59),(410,.555),(420,.6),
 (430,.57),(440,.58),(450,.55),(460,.59),(470,.56),(480,.615),(490,.54),(500,.58),(520,.56),(540,.59),
 (560,.53),(580,.57),(600,.55),(620,.56),(640,.52),(660,.55),(680,.455),(700,.54),(720,.53),(740,.55),
 (760,.51),(780,.54),(800,.52),(830,.5),(860,.53),(890,.49),(920,.51),(950,.48),(280,.5),(300,.52),
 (330,.48),(360,.485),(400,.53),(250,.47),(280,.43),(350,.5),(450,.52),(500,.51),(550,.5),(600,.49),
 (650,.5),(700,.48),(750,.47),(900,.46),(200,.45),(180,.47),(160,.49),(230,.5),(190,.43),
 (1000,.49),(1000,.47),(1050,.48),(1100,.46),(1100,.48),(1150,.45),(1200,.47),(1250,.44),(1300,.45),(1350,.42),
 (1400,.44),(1450,.41),(1500,.43),(1550,.4),(1600,.42),(1650,.39),(1700,.41),(1750,.38),(1800,.4),(1900,.37),
 (2000,.39),(2000,.36),(2100,.38),(2200,.34),(2300,.36),(2400,.33),(2500,.35),(2600,.32),(2700,.34),(2800,.31),
 (2900,.33),(3000,.32),(3200,.3),(3400,.31),(3600,.29),(3800,.3),(4000,.28),(4200,.29),(4500,.27),(4800,.28),
 (5000,.26),(5300,.27),(5500,.255),(6000,.265),(6500,.26),(7000,.26),(8000,.235),(10000,.23),(1300,.39),(1500,.37),
 (1700,.42),(2100,.31),(1200,.5),(1400,.46),(1800,.35),(40.4,.444)]
P6_MEASURED = []
P6_TMDL_MEASURED = []
P6_ND = [(20.4,.052),(41.5,.052),(55,.052)]
P6_TMDL_ND = []
P6_CRITICAL = [(40.4,.444)]
P6_CRITERIA = [0.82, 0.4]
P6_FLOW86 = 45.6

X_TITLE = "In-Stream Flowrate (cfs)"
Y_TITLE = "Chlorpyrifos Concentration (ug/L)"
TITLES = ["Calleguas Subwatershed<br>Receiving Water Sites"] * 2 + \
         ["Revolon Slough Subwatershed<br>Receiving Water Sites"] * 2 + \
         ["Mugu Lagoon Subwatershed<br>Receiving Water Sites"] * 2
LEGEND_NAMES = ["TTMBM Output", "Criteria Levels", "86th Percentile Flowrate", "Critical Condition",
                "Measured Data", "ND Level", "TMDL Measured Data", "TMDL ND Level"]

# ---------------------------------------------------------------- styling / layout
MAGENTA = "#FF00FF"
NAVY = "#000080"
CYAN = "#33E8FF"
BLUE = "#0000FF"
TEAL = "#008080"
RED = "#FF0000"
CROSS = "#2E3CF0"

# pixel boxes (left, top, right, bottom)
BOXES = [(66, 130, 560, 523), (690, 113, 1173, 514),
         (85, 633, 569, 1016), (690, 633, 1173, 1016),
         (75, 1136, 555, 1537), (690, 1136, 1171, 1537)]
XDEC = [4, 4, 4, 4, 5, 5]
YMAX = [1.6, 1.0, 3.2, 1.6, 2.0, 1.0]
YDT = [0.2, 0.2, 0.4, 0.2, 0.4, 0.2]
YMINOR = [0.05, 0.04, 0.1, 0.05, 0.05, 0.04]

panels = [
 (P1_TTMBM, P1_MEASURED, P1_TMDL_MEASURED, P1_ND, P1_TMDL_ND, P1_CRITICAL, P1_CRITERIA, P1_FLOW86),
 (P2_TTMBM, P2_MEASURED, P2_TMDL_MEASURED, P2_ND, P2_TMDL_ND, P2_CRITICAL, P2_CRITERIA, P2_FLOW86),
 (P3_TTMBM, P3_MEASURED, P3_TMDL_MEASURED, P3_ND, P3_TMDL_ND, P3_CRITICAL, P3_CRITERIA, P3_FLOW86),
 (P4_TTMBM, P4_MEASURED, P4_TMDL_MEASURED, P4_ND, P4_TMDL_ND, P4_CRITICAL, P4_CRITERIA, P4_FLOW86),
 (P5_TTMBM, P5_MEASURED, P5_TMDL_MEASURED, P5_ND, P5_TMDL_ND, P5_CRITICAL, P5_CRITERIA, P5_FLOW86),
 (P6_TTMBM, P6_MEASURED, P6_TMDL_MEASURED, P6_ND, P6_TMDL_ND, P6_CRITICAL, P6_CRITERIA, P6_FLOW86),
]

STY = {
 "ttmbm": dict(symbol="square-open", size=7, color=MAGENTA, line=dict(width=1.1, color=MAGENTA)),
 "meas": dict(symbol="diamond", size=8, color=NAVY, line=dict(width=0)),
 "tmdl": dict(symbol="diamond", size=8, color=CYAN, line=dict(width=1, color=NAVY)),
 "nd": dict(symbol="line-ew", size=9, color=BLUE, line=dict(width=2, color=BLUE)),
 "tmdlnd": dict(symbol="cross-thin", size=9, color="#00E5FF", line=dict(width=1.6, color="#00E5FF")),
 "crit": dict(symbol="cross-thin", size=29, color=CROSS, line=dict(width=1.3, color=CROSS)),
}


def axid(letter, k):
    return letter if k == 1 else "%s%d" % (letter, k)


fig = go.Figure()
shapes = []
annotations = []
layout = dict(width=W, height=H, margin=dict(l=0, r=0, t=0, b=0, autoexpand=False),
              paper_bgcolor="white", plot_bgcolor="white",
              font=dict(family=FONT, size=14, color="#111"))


def xy(pts):
    return [p[0] for p in pts], [p[1] for p in pts]


for i, (tt, me, tm, nd, tnd, cr, crit, q) in enumerate(panels):
    k = i + 1
    xa, ya = axid("x", k), axid("y", k)
    L, T, R, B = BOXES[i]
    xax = dict(type="log", range=[0, XDEC[i]], domain=[L / W, R / W], anchor=ya,
               dtick=1, tickformat=",", showgrid=True, gridcolor="#A8A8A8", gridwidth=1,
               ticks="outside", ticklen=5, tickcolor="black", showline=True, linecolor="black",
               linewidth=1.5, mirror=True, zeroline=False, automargin=False,
               minor=dict(ticks="outside", ticklen=3, dtick="D1", tickcolor="black", showgrid=False),
               tickfont=dict(size=14, family=FONT, color="#111"),
               title=dict(text=X_TITLE, font=dict(size=15.5, family=FONT, color="#111"), standoff=16))
    yax = dict(range=[0, YMAX[i]], domain=[1 - B / H, 1 - T / H], anchor=xa,
               dtick=YDT[i], tickformat=".1f", showgrid=True, gridcolor="#A8A8A8", gridwidth=1,
               ticks="outside", ticklen=5, tickcolor="black", showline=True, linecolor="black",
               linewidth=1.5, mirror=True, zeroline=False, automargin=False,
               minor=dict(ticks="outside", ticklen=3, dtick=YMINOR[i], tickcolor="black", showgrid=False),
               tickfont=dict(size=14, family=FONT, color="#111"),
               title=dict(text=Y_TITLE, font=dict(size=15.5, family=FONT, color="#111"), standoff=12))
    layout[axid("xaxis", k)] = xax
    layout[axid("yaxis", k)] = yax

    for pts, key, name in [(tt, "ttmbm", LEGEND_NAMES[0]), (me, "meas", LEGEND_NAMES[4]),
                           (tm, "tmdl", LEGEND_NAMES[6]), (nd, "nd", LEGEND_NAMES[5]),
                           (tnd, "tmdlnd", LEGEND_NAMES[7]), (cr, "crit", LEGEND_NAMES[3])]:
        if not pts:
            continue
        x, y = xy(pts)
        fig.add_trace(go.Scatter(x=x, y=y, mode="markers", marker=STY[key], name=name,
                                 showlegend=False, xaxis=xa, yaxis=ya, hoverinfo="x+y"))

    # criteria levels
    for c in crit:
        shapes.append(dict(type="line", xref=xa + " domain", yref=ya, x0=-0.03,
                           x1=1.0 if k == 6 else 1.035, y0=c, y1=c,
                           line=dict(color=RED, width=2, dash="11px,6px"), layer="above"))
    # 86th percentile flow
    shapes.append(dict(type="line", xref=xa, yref=ya + " domain", x0=q, x1=q, y0=0, y1=1.04,
                       line=dict(color=TEAL, width=1, dash="4px,3px"), layer="above"))


# ---------------------------------------------------------------- annotations
def lg(v):
    return math.log10(v)


def text(k, x, y, s, size=12, xanchor="left", yanchor="middle", align="left"):
    annotations.append(dict(xref=axid("x", k), yref=axid("y", k), x=lg(x), y=y, text=s, showarrow=False,
                            xanchor=xanchor, yanchor=yanchor, align=align,
                            font=dict(family=FONT, size=size, color="#111")))


def arrow(k, tx, ty, hx, hy):
    annotations.append(dict(xref=axid("x", k), yref=axid("y", k), axref=axid("x", k), ayref=axid("y", k),
                            x=lg(hx), y=hy, ax=lg(tx), ay=ty, text="", showarrow=True,
                            arrowhead=2, arrowsize=1, arrowwidth=1, arrowcolor="black", standoff=0,
                            startstandoff=0))


# panel titles
text(1, 1.87, 1.535, TITLES[0], size=18, yanchor="top")
text(2, 6000, 0.958, TITLES[1], size=18, xanchor="right", yanchor="top", align="right")
text(3, 1.47, 3.135, TITLES[2], size=18, yanchor="top")
text(4, 1.46, 1.548, TITLES[3], size=18, yanchor="top")
text(5, 1.1, 1.915, TITLES[4], size=18, yanchor="top")
text(6, 90000, 0.958, TITLES[5], size=18, xanchor="right", yanchor="top", align="right")

# panel 1
text(1, 2.04, 1.03, "Critical Condition", size=16)
arrow(1, 5.3, 1.005, 21, 0.942)
text(1, 18.2, 1.169, "86% Flow", size=11.5, xanchor="right")
arrow(1, 18.6, 1.169, 34, 1.169)
text(1, 849, 0.224, "0.025 ug/L", size=11.5)
arrow(1, 800, 0.21, 400, 0.027)
text(1, 1213, 0.132, "0.014 ug/L", size=11.5)
arrow(1, 1170, 0.12, 735, 0.016)
# panel 2
text(2, 3.99, 0.861, "Critical Condition", size=16)
arrow(2, 47.4, 0.851, 93, 0.798)
text(2, 5.07, 0.685, "86% Flow", size=11.5)
arrow(2, 14.8, 0.686, 32.2, 0.74)
text(2, 250, 0.193, "0.1 ug/L", size=11.5)
arrow(2, 257, 0.183, 170, 0.1)
# panel 3
text(3, 27.3, 2.262, "86% Flow", size=11.5)
arrow(3, 23.6, 2.276, 9.47, 2.10)
text(3, 532, 2.115, "Critical Condition", size=16)
arrow(3, 3296, 2.206, 1456, 2.93)
text(3, 576, 0.44, "0.025 ug/L", size=11.5)
arrow(3, 556, 0.41, 272, 0.03)
text(3, 1213, 0.245, "0.014 ug/L", size=11.5)
arrow(3, 1072, 0.217, 692, 0.03)
# panel 4
text(4, 25.8, 1.242, "86% Flow", size=11.5)
arrow(4, 25.4, 1.222, 11.2, 1.05)
text(4, 130, 0.918, "Critical Condition", size=16)
arrow(4, 121, 0.897, 41.3, 0.703)
text(4, 3665, 0.337, "0.1 ug/L", size=11.5)
arrow(4, 3435, 0.32, 1722, 0.111)
# panel 5
text(5, 3296, 1.829, "Critical Condition", size=16)
arrow(5, 3296, 1.792, 1849, 1.687)
text(5, 24.8, 1.38, "86% Flow", size=11.5, xanchor="right")
arrow(5, 25.2, 1.363, 43, 1.255)
text(5, 2871, 0.261, "0.015 ug/L", size=11.5)
arrow(5, 2742, 0.249, 1169, 0.02)
text(5, 9204, 0.146, "0.009 ug/L", size=11.5)
arrow(5, 8394, 0.133, 4842, 0.013)
# panel 6
text(6, 3.57, 0.896, "0.82 ug/L", size=11.5)
arrow(6, 3.35, 0.892, 1.93, 0.827)
text(6, 3.35, 0.255, "0.4 ug/L", size=11.5)
arrow(6, 3.26, 0.267, 1.8, 0.396)
text(6, 5.06, 0.699, "86% Flow", size=11.5)
arrow(6, 16.6, 0.678, 43.5, 0.628)
text(6, 1.32, 0.51, "Critical Condition", size=16)
arrow(6, 17.4, 0.493, 36.3, 0.451)

# ---------------------------------------------------------------- legend (2 rows x 4 columns)
legend_items = [
 (LEGEND_NAMES[0], "markers", dict(symbol="square-open", size=9, color=MAGENTA, line=dict(width=1.2, color=MAGENTA)), None, "legend"),
 (LEGEND_NAMES[1], "lines", None, dict(color=RED, width=2, dash="8px,5px"), "legend"),
 (LEGEND_NAMES[2], "lines", None, dict(color=TEAL, width=1.2, dash="4px,3px"), "legend2"),
 (LEGEND_NAMES[3], "markers", dict(symbol="cross-thin", size=12, color=CROSS, line=dict(width=1.3, color=CROSS)), None, "legend2"),
 (LEGEND_NAMES[4], "markers", dict(symbol="diamond", size=10, color=NAVY), None, "legend3"),
 (LEGEND_NAMES[5], "markers", dict(symbol="line-ew", size=10, color=BLUE, line=dict(width=2.5, color=BLUE)), None, "legend3"),
 (LEGEND_NAMES[6], "markers", dict(symbol="diamond", size=10, color=CYAN, line=dict(width=1, color=NAVY)), None, "legend4"),
 (LEGEND_NAMES[7], "markers", dict(symbol="cross-thin", size=12, color="#00E5FF", line=dict(width=1.6, color="#00E5FF")), None, "legend4"),
]
for rank, (name, mode, marker, line, lgd) in enumerate(legend_items):
    kw = dict(x=[None], y=[None], mode=mode, name=name, legend=lgd, legendrank=rank + 1,
              xaxis="x", yaxis="y", showlegend=True, hoverinfo="skip")
    if marker:
        kw["marker"] = marker
    if line:
        kw["line"] = line
    fig.add_trace(go.Scatter(**kw))

leg_common = dict(orientation="h", xref="paper", yref="paper", xanchor="left", yanchor="middle",
                  entrywidth=255, entrywidthmode="pixels", bgcolor="rgba(0,0,0,0)", borderwidth=0,
                  font=dict(family=FONT, size=16, color="#111"), itemclick=False, itemdoubleclick=False)
layout["legend"] = dict(leg_common, x=60 / W, y=1 - 23 / H)
layout["legend2"] = dict(leg_common, x=650 / W, y=1 - 23 / H)
layout["legend3"] = dict(leg_common, x=60 / W, y=1 - 56 / H)
layout["legend4"] = dict(leg_common, x=650 / W, y=1 - 56 / H)
shapes.append(dict(type="rect", xref="paper", yref="paper", x0=22 / W, x1=1197 / W,
                   y0=1 - 73 / H, y1=1 - 5 / H, line=dict(color="black", width=1)))

layout["shapes"] = shapes
layout["annotations"] = annotations
fig.update_layout(**layout)
fig.write_html("out.html", config={"displayModeBar": False},
               post_script="document.body.style.margin='0px';")
